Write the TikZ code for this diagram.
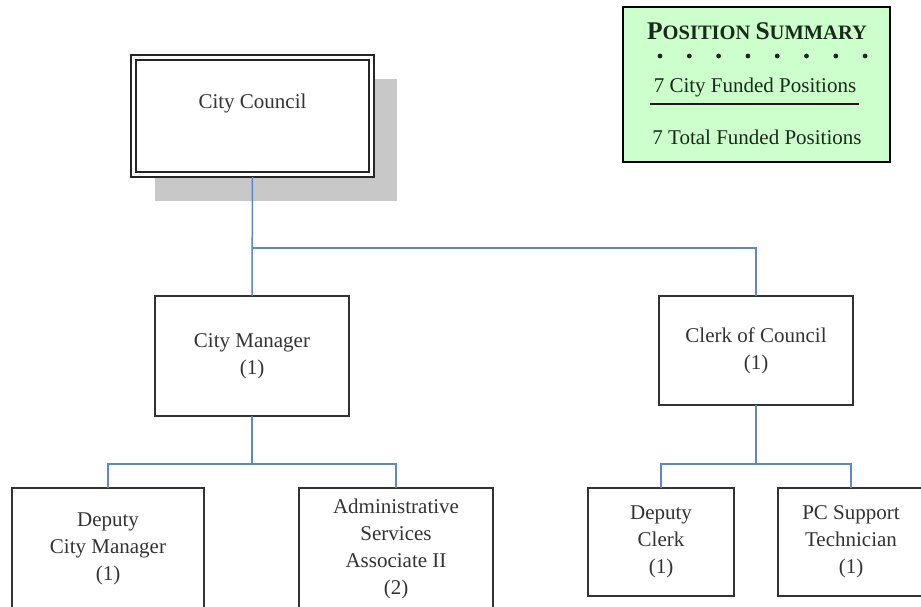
\documentclass[tikz,border=0pt]{standalone}
\usepackage{fontspec}
\setmainfont{Liberation Serif}
\begin{document}
\begin{tikzpicture}[x=1pt,y=-1pt,
  every node/.style={inner sep=0pt, outer sep=0pt},
  orgbox/.style={draw=black!80, line width=2pt, fill=white, align=center,
    text=black!80, font=\fontsize{21}{27}\selectfont},
  txt/.style={text=black!80, font=\fontsize{21}{27}\selectfont, align=center},
  sumtxt/.style={text=sumink, font=\fontsize{21}{26}\selectfont},
]
\definecolor{linkblue}{HTML}{5F86C6}
\definecolor{shadowgray}{HTML}{C8C8C8}
\definecolor{sumgreen}{HTML}{CCFFCC}
\definecolor{sumink}{HTML}{1A2A1A}
\tikzset{conn/.style={draw=linkblue, line width=1.5pt}}

\useasboundingbox (0,0) rectangle (921,607);
\clip (0,0) rectangle (921,607);

% council box with drop shadow and double frame
\fill[shadowgray] (155,79) rectangle (397,201);
\node[draw=black!85, line width=2.5pt, fill=white, minimum width=243pt,
      minimum height=122pt] (cc) at (252.5,116) {};
\draw[black!85, line width=1.2pt]
  ([xshift=5pt,yshift=-5pt]cc.north west) rectangle ([xshift=-5pt,yshift=5pt]cc.south east);
\node[txt] (cctext) at (252.5,103) {City Council};

% second level
\node[orgbox, minimum width=194pt, minimum height=120pt] (cm) at (252,356) {City Manager\\(1)};
\node[orgbox, minimum width=194pt, minimum height=109pt] (clerk) at (756,350.5) {Clerk of Council\\(1)};

% third level
\node[orgbox, minimum width=192pt, minimum height=122pt] (dcm) at (108,549) {Deputy\\City Manager\\(1)};
\node[orgbox, minimum width=194pt, minimum height=122pt] (adm) at (396,549) {Administrative\\Services\\Associate II\\(2)};
\node[orgbox, minimum width=146pt, minimum height=108pt] (dc) at (661,542) {Deputy\\Clerk\\(1)};
\node[orgbox, minimum width=146pt, minimum height=108pt] (pc) at (851,542) {PC Support\\Technician\\(1)};

% connectors
\coordinate (j1) at (252,248);
\coordinate (j2) at (252,464);
\coordinate (j3) at (756,464);
\draw[conn] (cc.south) -- (cm.north);
\draw[conn] (j1) -| (clerk.north);
\draw[conn] (cm.south) -- (j2);
\draw[conn] (dcm.north) |- (j2) -| (adm.north);
\draw[conn] (clerk.south) -- (j3);
\draw[conn] (dc.north) |- (j3) -| (pc.north);

% position summary panel
\node[draw=black, line width=2pt, fill=sumgreen, minimum width=267pt,
      minimum height=155pt] (ps) at (756.5,84.5) {};
\node[text=sumink, font=\bfseries\fontsize{20.5}{25}\selectfont] (pstitle) at (757,31)
  {{\fontsize{25.5}{25}\selectfont P}OSITION\ {\fontsize{25.5}{25}\selectfont S}UMMARY};
\foreach \i in {0,...,7}
  \fill[sumink] (660+\i*29.3,56) circle (2.4pt);
\node[sumtxt] (psline1) at (755,87) {7 City Funded Positions};
\draw[black!90, line width=1.6pt] (650,104) -- (859,104);
\node[sumtxt] (psline2) at (757,137) {7 Total Funded Positions};
\end{tikzpicture}
\end{document}
